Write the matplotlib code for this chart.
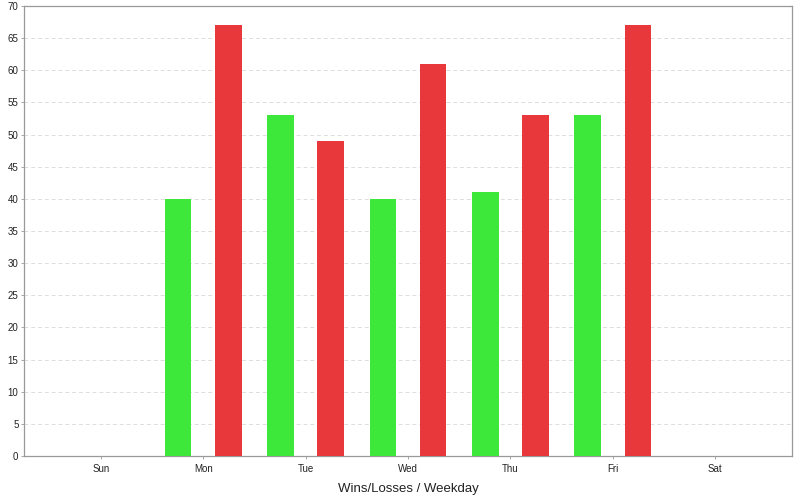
import matplotlib
matplotlib.use("Agg")
import matplotlib.pyplot as plt
import numpy as np

plt.rcParams['font.family'] = ['Liberation Sans', 'DejaVu Sans']

days = ["Sun", "Mon", "Tue", "Wed", "Thu", "Fri", "Sat"]
wins = [0, 40, 53, 40, 41, 53, 0]
losses = [0, 67, 49, 61, 53, 67, 0]

fig = plt.figure(figsize=(8, 5), dpi=100)
ax = fig.add_axes([0.03, 0.088, 0.96, 0.9])
x = np.arange(len(days))
w = 0.26
ax.bar(x - 0.245, wins, w, color="#3de83a", zorder=3)
ax.bar(x + 0.245, losses, w, color="#e8383b", zorder=3)
ax.set_xlim(-0.75, 6.75)
ax.set_ylim(0, 70)
ax.set_yticks(np.arange(0, 71, 5))
ax.set_xticks(x)
ax.set_xticklabels(days)
ax.tick_params(labelsize=7, colors="#222222", length=2, width=0.6)
ax.tick_params(axis="x", color="#999999", pad=4)
ax.tick_params(axis="y", color="#999999", pad=2)
for s in ax.spines.values():
    s.set_color("#999999")
    s.set_linewidth(0.9)
ax.grid(axis="y", linestyle=(0, (4, 3)), color="#dddddd", linewidth=0.7, zorder=0)
ax.set_xlabel("Wins/Losses / Weekday", fontsize=9.5, color="#222222", labelpad=6)
fig.savefig("out.png", dpi=100)
